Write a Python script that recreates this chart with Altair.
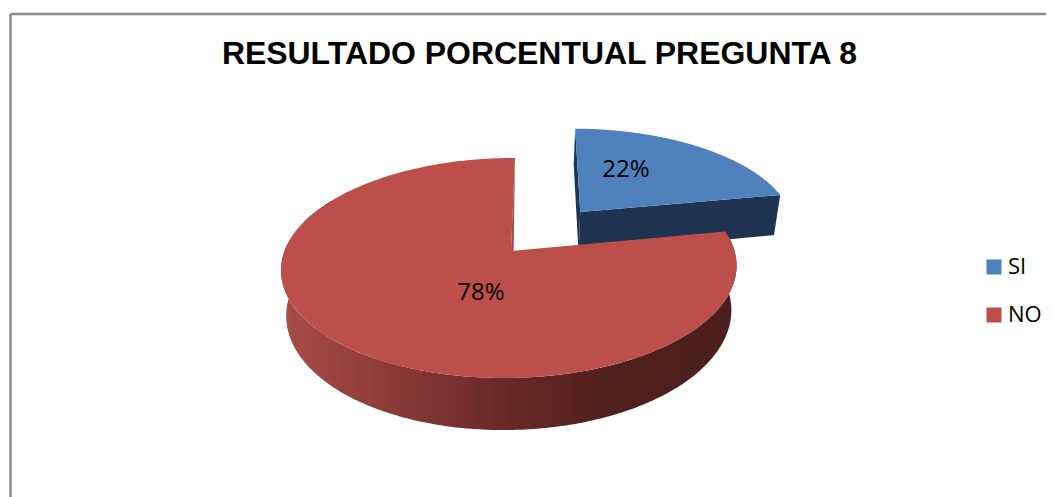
import math
import altair as alt

categories = ["SI", "NO"]
values = [22, 78]
colors = ["#4F81BD", "#BD4F4B"]
title_text = "RESULTADO PORCENTUAL PREGUNTA 8"

W, H = 1038, 489
OFFX, OFFY = 8, 8
AX, AY, R, V, S = 511.0, 251.0, 225.0, 107.4, 4.6
P, Q = 0.1545, 0.0066
DEPTH, SHRINK, CX0 = 44.0, 0.977, 510.0
EXPLODE = 0.5
STEPS = 240


def proj(u, v):
    w = 1 + P * v + Q * u
    return AX + (R * u + S * v) / w, AY - V * v / w, w


def top(u, v):
    x, y, _ = proj(u, v)
    return [x - OFFX, y - OFFY]


def bottom(u, v):
    x, y, w = proj(u, v)
    return [CX0 + (x - CX0) * SHRINK - OFFX, y + DEPTH / w - OFFY]


def arc_uv(start, end, du=0.0, dv=0.0):
    out = []
    for i in range(STEPS + 1):
        t = math.radians(start + (end - start) * i / STEPS)
        out.append((du + math.sin(t), dv + math.cos(t)))
    return out


def feature(points, name):
    ring = list(points) + [points[0]]
    return {"type": "Feature", "properties": {"name": name},
            "geometry": {"type": "Polygon", "coordinates": [ring]}}


split = 360 * values[0] / sum(values)
mid = math.radians(split / 2)
du, dv = EXPLODE * math.sin(mid), EXPLODE * math.cos(mid)

blue_arc = arc_uv(0, split, du, dv)
red_arc = arc_uv(split, 360)
red_front = arc_uv(split, 300)

blue_top = [top(du, dv)] + [top(*p) for p in blue_arc]
red_top = [top(0, 0)] + [top(*p) for p in red_arc]
red_wall = [top(*p) for p in red_front] + [bottom(*p) for p in reversed(red_front)]
blue_wall = [top(du, dv), top(*blue_arc[-1]), bottom(*blue_arc[-1]), bottom(du, dv)]
blue_inner = [top(du, dv), top(*blue_arc[0]), bottom(*blue_arc[0]), bottom(du, dv)]
ax, ay = top(0, 0)
red_inner = [top(*red_arc[-1]), [ax, ay], [ax + 2.6, ay]]

identity = dict(type="identity", scale=1, translate=[0, 0])


def faces(features, **mark):
    return alt.Chart(alt.Data(values=features)).mark_geoshape(strokeWidth=0, **mark).project(**identity)


wall_gradient = alt.Gradient(
    gradient="linear", x1=0, x2=1, y1=0, y2=0,
    stops=[
        alt.GradientStop(offset=0.0, color="#A84D48"),
        alt.GradientStop(offset=0.25, color="#8A3A37"),
        alt.GradientStop(offset=0.5, color="#672826"),
        alt.GradientStop(offset=0.72, color="#4E1F1D"),
        alt.GradientStop(offset=1.0, color="#4C1E1C"),
    ],
)

blue_side = faces([feature(blue_wall, "SI"), feature(blue_inner, "SI")], fill="#1F3450")
red_side = faces([feature(red_wall, "NO")], fill=wall_gradient)
red_cut = faces([feature(red_inner, "NO")], fill="#A04541")

tops = faces([feature(blue_top, categories[0]), feature(red_top, categories[1])]).encode(
    color=alt.Color(
        "properties.name:N",
        scale=alt.Scale(domain=categories, range=colors),
        legend=alt.Legend(
            title=None, orient="none", legendX=975, legendY=248,
            symbolType="square", symbolSize=225, symbolStrokeWidth=0,
            labelFont="Open Sans", labelFontSize=22, labelColor="#000000",
            labelOffset=3, rowPadding=26, padding=0,
        ),
    )
)


def label(text, px, py):
    return alt.Chart(alt.Data(values=[{"t": text}])).mark_text(
        font="Open Sans", fontSize=24, color="#000000", align="center", baseline="middle"
    ).encode(x=alt.value(px - OFFX), y=alt.value(py - OFFY), text="t:N")


labels = [
    label(f"{values[0]}%", 626, 170),
    label(f"{values[1]}%", 481, 293),
]


def rule(x1, y1, x2, y2):
    return alt.Chart(alt.Data(values=[{"a": 0}])).mark_rule(color="#898989", strokeWidth=2.5).encode(
        x=alt.value(x1 - OFFX), y=alt.value(y1 - OFFY), x2=alt.value(x2 - OFFX), y2=alt.value(y2 - OFFY)
    )


frame = [rule(10.5, 14, 1054, 14), rule(10.5, 14, 10.5, 497)]

chart = alt.layer(*frame, blue_side, red_side, tops, red_cut, *labels).properties(
    width=W,
    height=H,
    padding=0,
    autosize=alt.AutoSizeParams(type="none"),
    title=alt.TitleParams(
        title_text, font="Liberation Sans", fontWeight="bold", fontSize=31.95,
        color="#000000", anchor="middle", dx=12.5, dy=63, offset=0,
    ),
).configure_view(stroke=None)

chart.save("out.html", embed_options={"renderer": "svg", "actions": False})
